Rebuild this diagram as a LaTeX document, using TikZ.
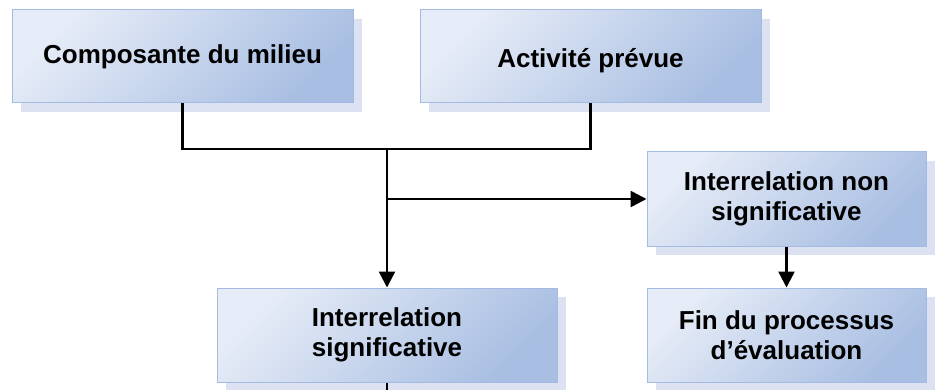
\documentclass[tikz,border=0pt]{standalone}
\usepackage{fontspec}
\setmainfont{Liberation Sans}
\usetikzlibrary{arrows.meta,shadows}
\definecolor{boxlight}{HTML}{E6ECF7}
\definecolor{boxdark}{HTML}{A8BEE2}
\definecolor{boxline}{HTML}{A3BAE2}
\definecolor{shadowc}{HTML}{DCE2F2}
\tikzset{
  box/.style={draw=boxline, line width=1pt, top color=boxlight, bottom color=boxdark, shading angle=45,
    general shadow={fill=shadowc, shadow xshift=9pt, shadow yshift=-9pt},
    align=center, font=\fontsize{26}{30}\selectfont\bfseries, inner sep=0pt},
  conn/.style={line width=2.5pt, black},
  arr/.style={conn, -{Triangle[length=16pt,width=16pt]}}
}
\begin{document}
\begin{tikzpicture}[x=1pt,y=-1pt]
\useasboundingbox (0,0) rectangle (939,390);
\node[box, minimum width=341pt, minimum height=93pt] (b1) at (182.5,56.5) {Composante du milieu};
\node[box, minimum width=341pt, minimum height=93pt, text height=29pt, text depth=6pt] (b2) at (590.5,56.5) {Activité prévue};
\node[box, minimum width=340pt, minimum height=94pt] (b3) at (387,335) {Interrelation\\significative};
\node[box, minimum width=279pt, minimum height=94pt] (b4) at (786.5,199) {Interrelation non\\significative};
\node[box, minimum width=279pt, minimum height=94pt] (b5) at (786.5,335) {Fin du processus\\d’évaluation};
\coordinate (j) at (387,149);
\coordinate (k) at (387,199);
\coordinate (e) at (387,392);
\draw[conn] (b1.south) -- (b1.south |- j) -- (b2.south |- j) -- (b2.south);
\draw[arr] (j) -- (b3.north);
\draw[arr] (k) -- (b4.west);
\draw[arr] (b4.south) -- (b5.north);
\draw[conn] (b3.south) -- (e);
\end{tikzpicture}
\end{document}
